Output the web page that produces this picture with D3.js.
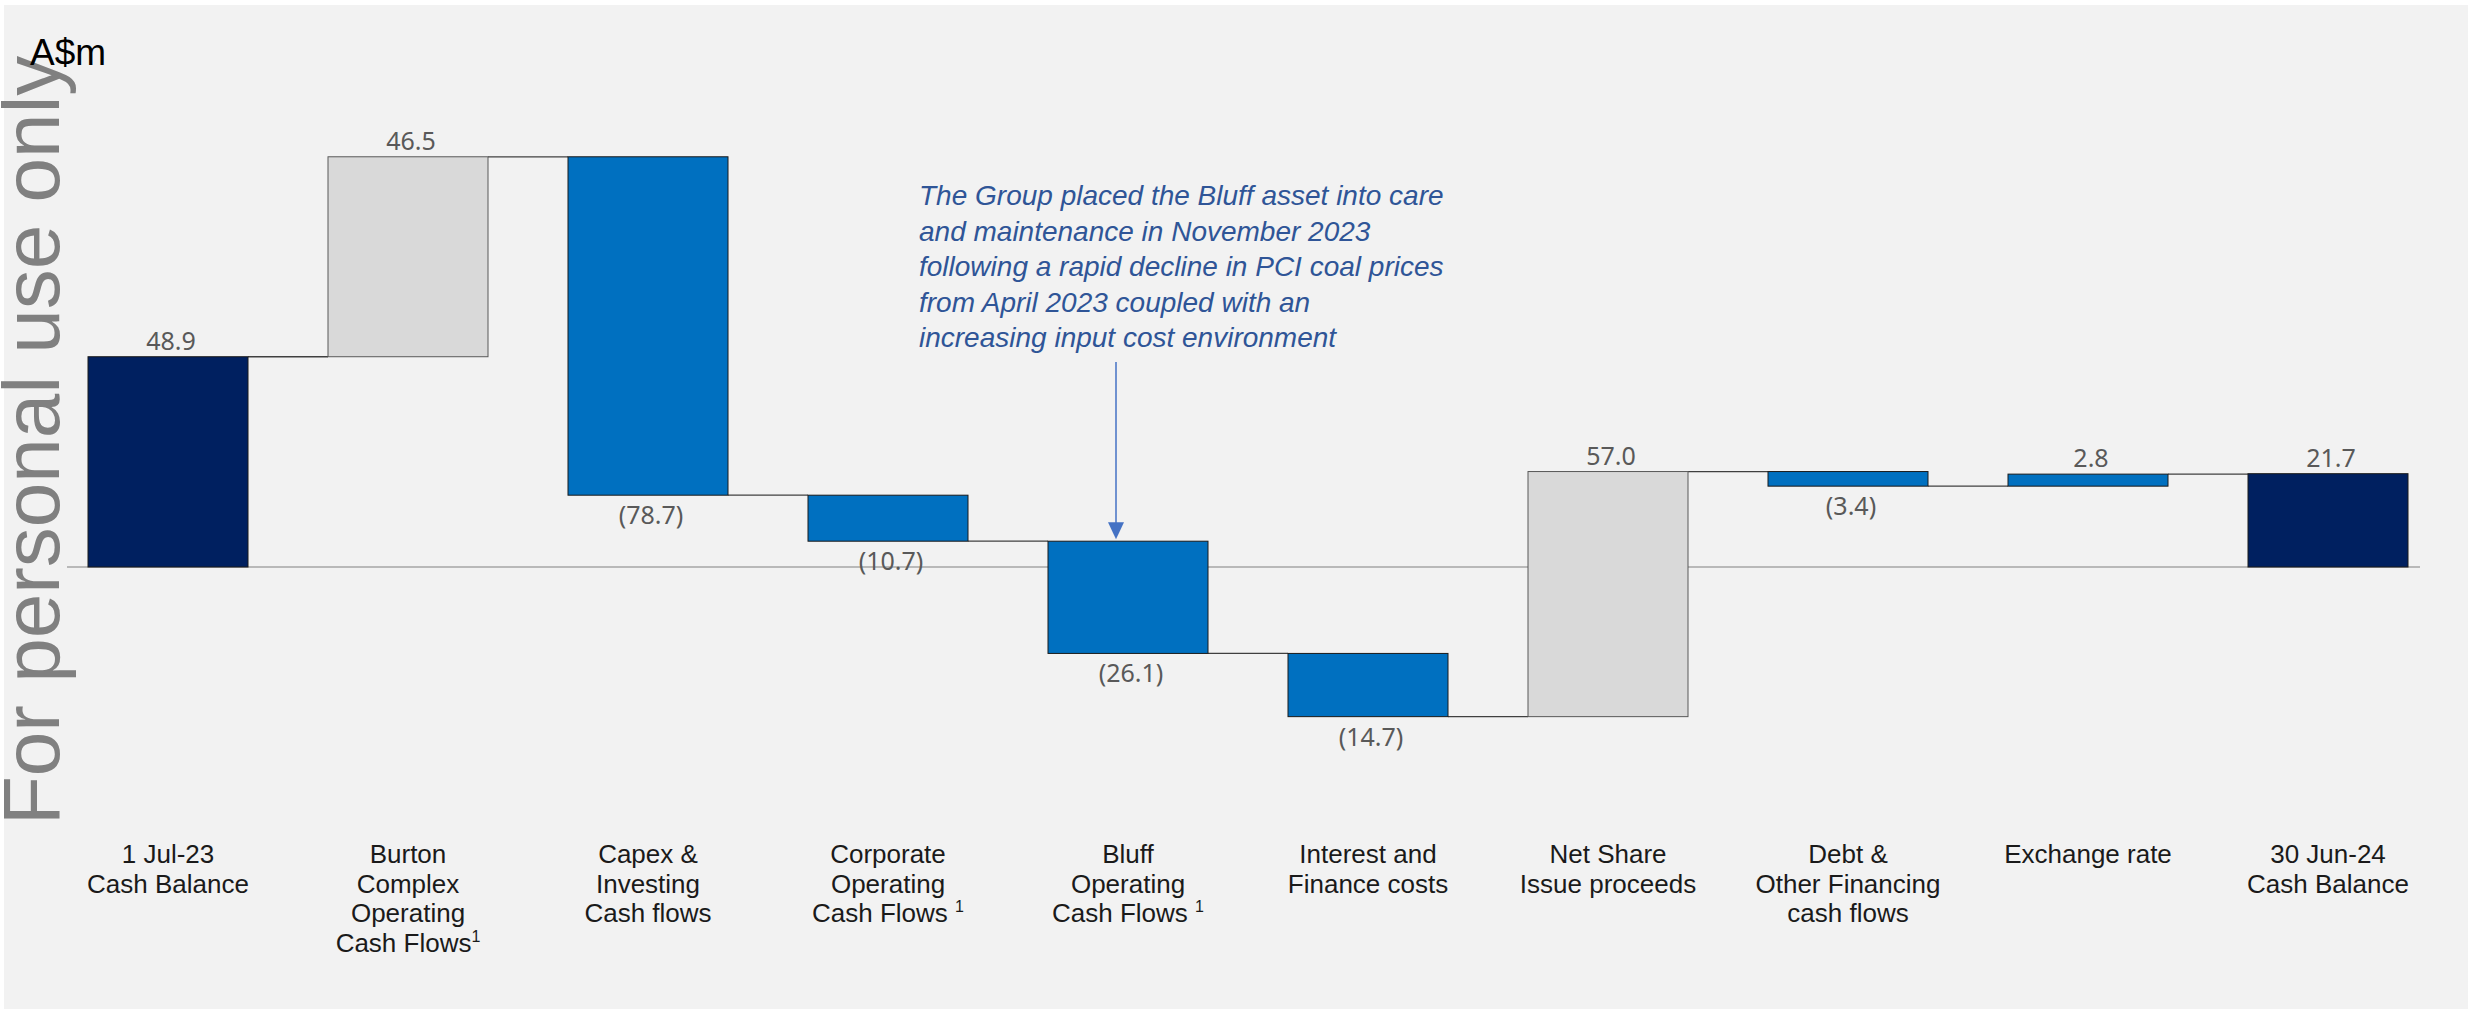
<!DOCTYPE html>
<html>
<head>
<meta charset="utf-8">
<script src="https://cdn.jsdelivr.net/npm/d3@7"></script>
<style>
  html, body { margin: 0; padding: 0; background: #ffffff; }
  svg { display: block; }
</style>
</head>
<body>
<svg id="chart" width="2471" height="1009"></svg>
<script>
// ---- data ----
const categories = [
  ["1 Jul-23", "Cash Balance"],
  ["Burton", "Complex", "Operating", "Cash Flows|1"],
  ["Capex &", "Investing", "Cash flows"],
  ["Corporate", "Operating", "Cash Flows |1"],
  ["Bluff", "Operating", "Cash Flows |1"],
  ["Interest and", "Finance costs"],
  ["Net Share", "Issue proceeds"],
  ["Debt &", "Other Financing", "cash flows"],
  ["Exchange rate"],
  ["30 Jun-24", "Cash Balance"]
];
const values = [48.9, 46.5, -78.7, -10.7, -26.1, -14.7, 57.0, -3.4, 2.8, 21.7];
const kinds = ["total", "inflow", "flow", "flow", "flow", "flow", "inflow", "flow", "flow", "total"];
const valueLabels = ["48.9", "46.5", "(78.7)", "(10.7)", "(26.1)", "(14.7)", "57.0", "(3.4)", "2.8", "21.7"];
const unitLabel = "A$m";
const watermark = "For personal use only";
const annotationLines = [
  "The Group placed the Bluff asset into care",
  "and maintenance in November 2023",
  "following a rapid decline in PCI coal prices",
  "from April 2023 coupled with an",
  "increasing input cost environment"
];
const annotatedIndex = 4;

// ---- build waterfall steps ----
let running = 0;
const steps = values.map((v, i) => {
  let start, end;
  if (kinds[i] === "total") { start = 0; end = v; running = v; }
  else { start = running; end = running + v; running = end; }
  return { i, v, start, end, kind: kinds[i], label: valueLabels[i], cat: categories[i] };
});

const colors = { total: "#002060", inflow: "#D9D9D9", flow: "#0070C0" };

const svg = d3.select("#chart");
svg.append("rect").attr("x", 4).attr("y", 5).attr("width", 2464).attr("height", 1004).attr("fill", "#F2F2F2");

const x = d3.scaleBand().domain(d3.range(values.length)).range([48, 2448]).paddingInner(1/3).paddingOuter(1/6);
const y = d3.scaleLinear().domain([-50, 100]).range([782, 137]);

// watermark
svg.append("text")
  .attr("transform", "translate(59,825) rotate(-90)")
  .attr("font-family", "Liberation Sans, Arial, sans-serif")
  .attr("font-size", 80)
  .attr("fill", "#808080")
  .text(watermark);

// unit label
svg.append("text")
  .attr("x", 30).attr("y", 65)
  .attr("font-family", "Liberation Sans, Arial, sans-serif")
  .attr("font-size", 37)
  .attr("fill", "#000")
  .text(unitLabel);

// zero line
svg.append("line")
  .attr("x1", 67).attr("x2", 2420)
  .attr("y1", y(0)).attr("y2", y(0))
  .attr("stroke", "#A6A6A6").attr("stroke-width", 1.5);

// connectors
const conn = steps.slice(0, -1).map((s, k) => ({ from: s, to: steps[k + 1] }));
svg.append("g").selectAll("line").data(conn).join("line")
  .attr("x1", d => x(d.from.i) + x.bandwidth())
  .attr("x2", d => x(d.to.i))
  .attr("y1", d => y(d.from.end))
  .attr("y2", d => y(d.from.end))
  .attr("stroke", "#404040").attr("stroke-width", 1.3);

// bars
svg.append("g").selectAll("rect").data(steps).join("rect")
  .attr("x", d => x(d.i))
  .attr("width", x.bandwidth())
  .attr("y", d => y(Math.max(d.start, d.end)))
  .attr("height", d => Math.abs(y(d.start) - y(d.end)))
  .attr("fill", d => colors[d.kind])
  .attr("stroke", d => d.kind === "inflow" ? "#595959" : "#1a1a1a")
  .attr("stroke-width", 1);

// value labels
svg.append("g").selectAll("text").data(steps).join("text")
  .attr("x", d => x(d.i) + x.bandwidth() / 2 + 3)
  .attr("y", d => d.v >= 0 ? y(Math.max(d.start, d.end)) - 7 : y(Math.min(d.start, d.end)) + 29)
  .attr("text-anchor", "middle")
  .attr("font-family", "Noto Sans, Open Sans, sans-serif")
  .attr("font-size", 25)
  .attr("fill", "#595959")
  .text(d => d.label);

// category labels
const catG = svg.append("g").selectAll("text").data(steps).join("text")
  .attr("text-anchor", "middle")
  .attr("font-family", "Liberation Sans, Arial, sans-serif")
  .attr("font-size", 26)
  .attr("fill", "#1a1a1a");
catG.each(function(d) {
  const t = d3.select(this);
  const cx = x(d.i) + x.bandwidth() / 2;
  d.cat.forEach((line, li) => {
    const parts = line.split("|");
    t.append("tspan").attr("x", cx).attr("y", 863 + li * 29.7).text(parts[0]);
    if (parts.length > 1) {
      t.append("tspan").attr("font-size", 16).attr("dy", -10).text(parts[1]);
    }
  });
});

// annotation
const ann = svg.append("text")
  .attr("font-family", "Liberation Sans, Arial, sans-serif")
  .attr("font-style", "italic")
  .attr("font-size", 28)
  .attr("fill", "#2F5597");
annotationLines.forEach((l, k) => {
  ann.append("tspan").attr("x", 919).attr("y", 205 + k * 35.5).text(l);
});

// arrow
const target = steps[annotatedIndex];
const ax = x(annotatedIndex) + x.bandwidth() / 2 - 12;
const tipY = y(Math.max(target.start, target.end)) - 2;
svg.append("line")
  .attr("x1", ax).attr("x2", ax)
  .attr("y1", 362).attr("y2", tipY - 14)
  .attr("stroke", "#4472C4").attr("stroke-width", 1.5);
svg.append("path")
  .attr("d", `M${ax - 8},${tipY - 17} L${ax + 8},${tipY - 17} L${ax},${tipY} Z`)
  .attr("fill", "#4472C4");
</script>
</body>
</html>
